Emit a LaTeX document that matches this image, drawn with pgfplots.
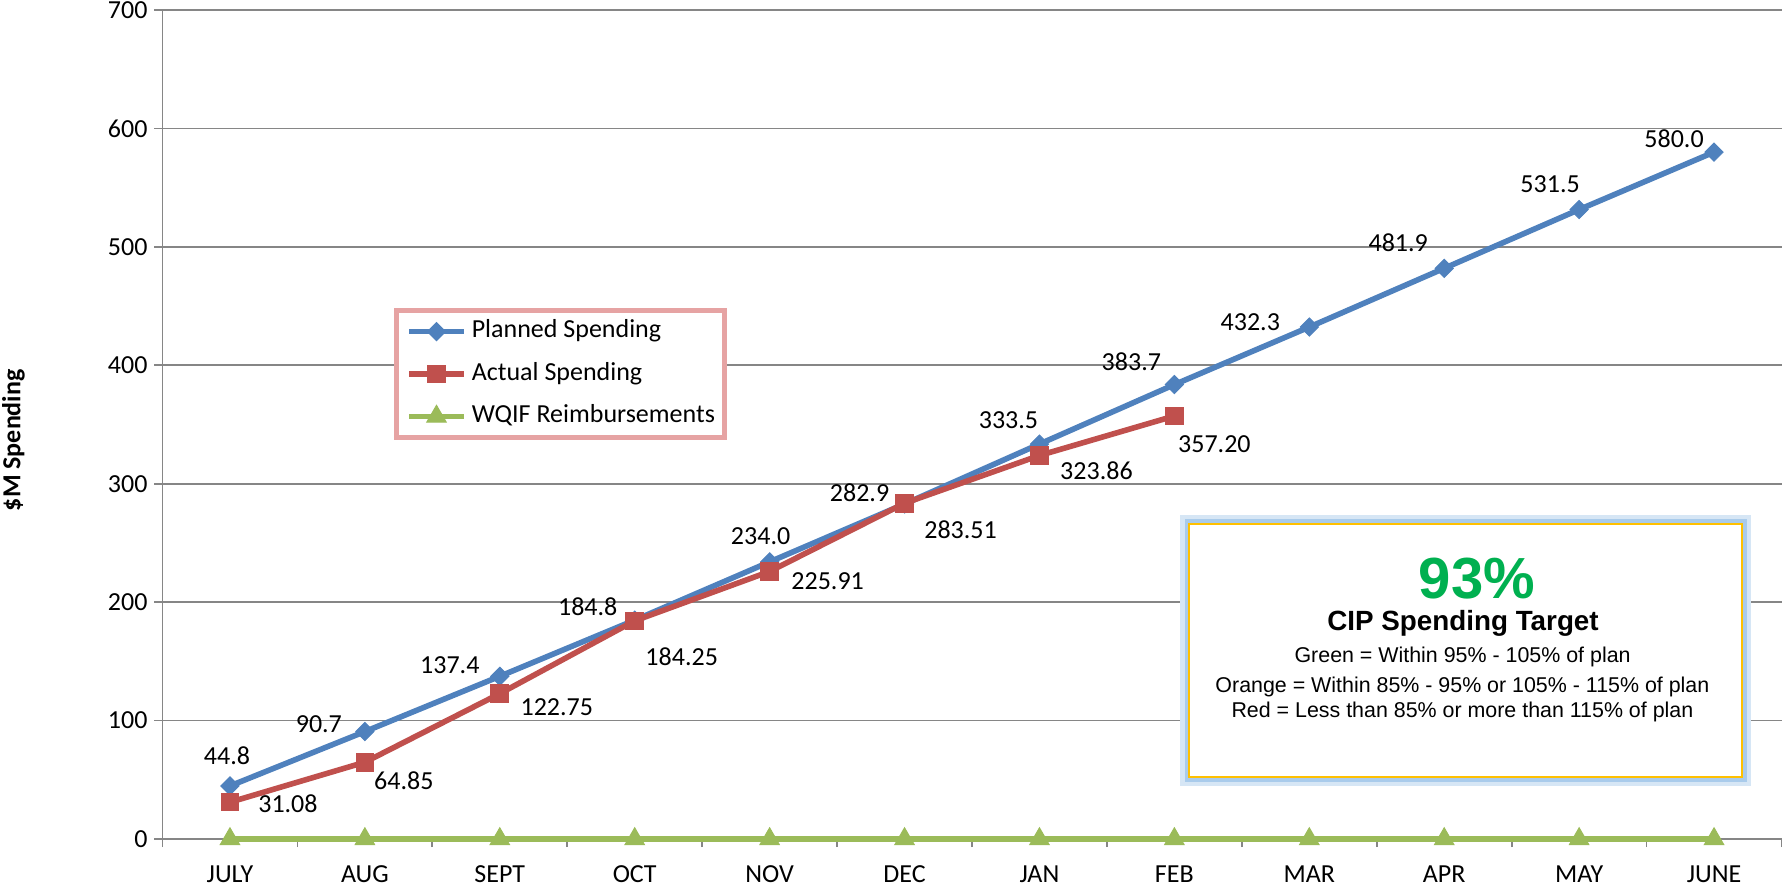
\documentclass[border=0pt]{standalone}
\usepackage{fontspec}
\setmainfont{Carlito}
\newfontfamily\arial{Liberation Sans}
\usepackage{pgfplots}
\pgfplotsset{compat=1.18}
\usepackage{pgfplotstable}

\definecolor{planned}{HTML}{4F81BD}
\definecolor{actual}{HTML}{C0504D}
\definecolor{wqif}{HTML}{9BBB59}
\definecolor{gridgray}{HTML}{868686}
\definecolor{legborder}{HTML}{E6A3A3}
\definecolor{boxyellow}{HTML}{FFC000}
\definecolor{glowa}{HTML}{D6E6F5}
\definecolor{glowb}{HTML}{A9CBEB}
\definecolor{pctgreen}{HTML}{00B050}

\pgfplotstableread{
x y dx dy lab
0 44.8 -1.5 15 44.8
1 90.7 -23 3.5 90.7
2 137.4 -25 5.5 137.4
3 184.8 -23.5 6.5 184.8
4 234.0 -4.5 13 234.0
5 282.9 -22.5 5.5 282.9
6 333.5 -15.5 12 333.5
7 383.7 -21.5 11.5 383.7
8 432.3 -29.5 2.5 432.3
9 481.9 -23 13 481.9
10 531.5 -14.5 12.5 531.5
11 580.0 -20 6.5 580.0
}\planned

\pgfplotstableread{
x y dx dy lab
0 31.08 29 -1 31.08
1 64.85 19.5 -9.5 64.85
2 122.75 28.5 -7 122.75
3 184.25 23.5 -18 184.25
4 225.91 29 -5 225.91
5 283.51 28 -13 283.51
6 323.86 28.5 -7.5 323.86
7 357.20 20 -14 357.20
}\actual

\pgfplotstableread{
x y
0 0
1 0
2 0
3 0
4 0
5 0
6 0
7 0
8 0
9 0
10 0
11 0
}\wqif

\begin{document}
\begin{tikzpicture}
\begin{axis}[
  at={(81.25pt,25.5pt)}, anchor=south west,
  scale only axis, width=809.5pt, height=414.5pt,
  xmin=-0.5, xmax=11.5, ymin=0, ymax=700,
  xtick={0,...,11},
  xticklabels={JULY,AUG,SEPT,OCT,NOV,DEC,JAN,FEB,MAR,APR,MAY,JUNE},
  minor xtick={-0.5,0.5,...,11.5},
  ytick={0,100,...,700},
  axis x line*=bottom, axis y line*=left,
  axis line style={draw=gridgray, line width=0.85pt},
  ymajorgrids, major grid style={draw=gridgray, line width=0.85pt},
  tick align=outside,
  major tick length=4pt, minor tick length=4pt,
  major x tick style={draw=none},
  minor x tick style={draw=gridgray, line width=0.85pt},
  ytick style={draw=gridgray, line width=0.85pt},
  tick label style={font=\fontsize{13}{15}\selectfont, text=black},
  xticklabel style={yshift=-6pt},
  /pgf/number format/assume math mode=true,
  ylabel={\$M Spending},
  ylabel style={font=\bfseries\fontsize{13}{15}\selectfont, at={(axis description cs:-0.092,0.481)}, anchor=center},
  clip=false,
  legend cell align=left,
  legend style={at={(axis description cs:0.1428,0.6405)}, anchor=north west,
    draw=legborder, line width=2.5pt, fill=white,
    inner xsep=5pt, inner ysep=4.5pt, row sep=9.25pt, column sep=2.5pt,
    font=\fontsize{13}{15}\selectfont,
    nodes={inner sep=0pt, text height=9pt, text depth=3pt}},
  legend image code/.code={\draw[mark repeat=2,mark phase=2] plot coordinates {(0pt,0pt) (13.75pt,0pt) (27.5pt,0pt)};},
  every node near coord/.append style={anchor=center, text=black, font=\fontsize{13}{15}\selectfont},
]
\addplot[planned, line width=2.8pt, mark=square*, mark size=3.2pt,
  mark options={rotate=45, line width=0.5pt, fill=planned},
  nodes near coords=\pgfplotspointmeta, point meta=explicit symbolic,
  visualization depends on={\thisrow{dx} \as \dx},
  visualization depends on={\thisrow{dy} \as \dy},
  every node near coord/.append style={xshift=\dx pt, yshift=\dy pt}]
  table[x=x, y=y, meta=lab] {\planned};
\addlegendentry{Planned Spending}
\addplot[actual, line width=2.8pt, mark=square*, mark size=4.4pt,
  mark options={line width=0.5pt, fill=actual},
  nodes near coords=\pgfplotspointmeta, point meta=explicit symbolic,
  visualization depends on={\thisrow{dx} \as \dx},
  visualization depends on={\thisrow{dy} \as \dy},
  every node near coord/.append style={xshift=\dx pt, yshift=\dy pt}]
  table[x=x, y=y, meta=lab] {\actual};
\addlegendentry{Actual Spending}
\addplot[wqif, line width=2.8pt, mark=triangle*, mark size=5.6pt,
  mark options={line width=0.5pt, fill=wqif}]
  table[x=x, y=y] {\wqif};
\addlegendentry{WQIF Reimbursements}
\end{axis}

% info box
\draw[line width=9pt, draw=glowa] (594.5pt,56.5pt) rectangle (871pt,183pt);
\draw[line width=4.5pt, draw=glowb] (594.5pt,56.5pt) rectangle (871pt,183pt);
\filldraw[fill=white, draw=boxyellow, line width=1pt] (594.5pt,56.5pt) rectangle (871pt,183pt);
\node[font=\arial\bfseries\fontsize{29}{33}\selectfont, text=pctgreen, anchor=base] at (738.5pt,146pt) {93\%};
\node[font=\arial\bfseries\fontsize{13.9}{16}\selectfont, anchor=base] at (731.5pt,130pt) {CIP Spending Target};
\node[font=\arial\fontsize{10.7}{13}\selectfont, anchor=base] at (731.3pt,114pt) {Green = Within 95\% - 105\% of plan};
\node[font=\arial\fontsize{10.7}{13}\selectfont, anchor=base] at (731.2pt,99pt) {Orange = Within 85\% - 95\% or 105\% - 115\% of plan};
\node[font=\arial\fontsize{10.7}{13}\selectfont, anchor=base] at (731.2pt,86.5pt) {Red = Less than 85\% or more than 115\% of plan};

\pgfresetboundingbox
\path (0pt,0pt) rectangle (891.5pt,445pt);
\end{tikzpicture}
\end{document}
